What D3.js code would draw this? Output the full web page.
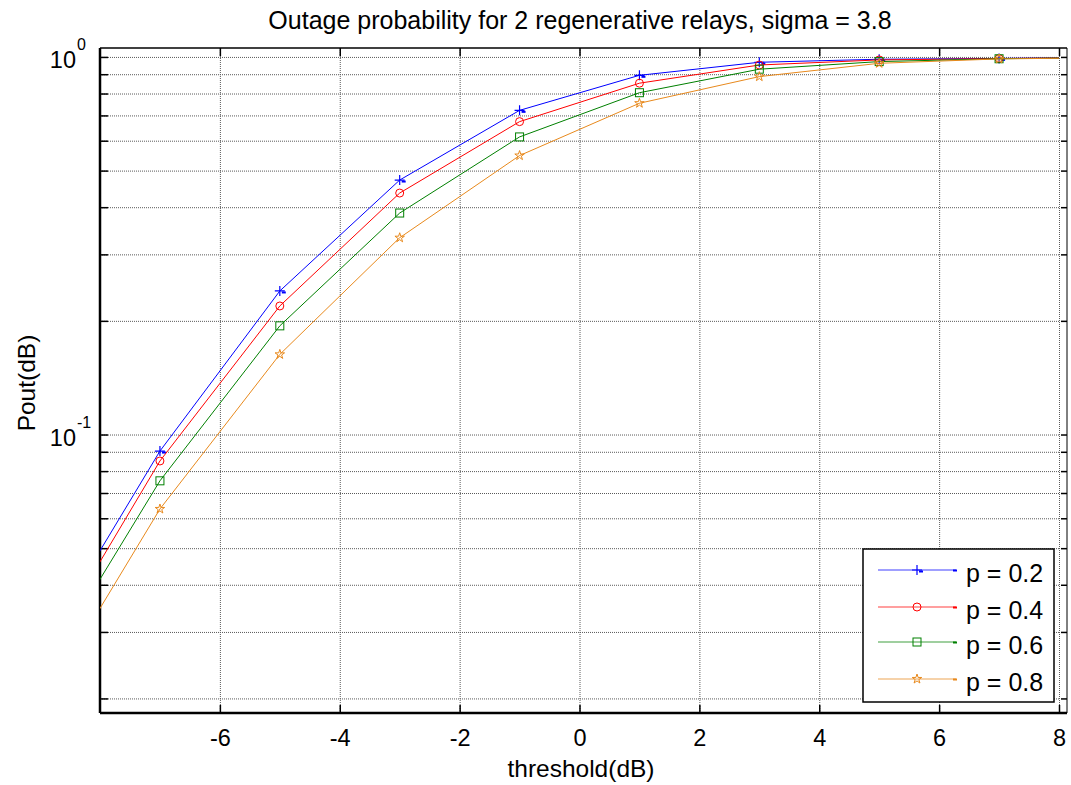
<!DOCTYPE html>
<html>
<head>
<meta charset="utf-8">
<script src="https://cdn.jsdelivr.net/npm/d3@7"></script>
<style>
  html, body { margin: 0; padding: 0; background: #fff; }
  svg { display: block; font-family: "Liberation Sans", Arial, sans-serif; }
</style>
</head>
<body>
<svg id="chart" width="1071" height="785"></svg>
<script>
// ---------------- data ----------------
const titleText = "Outage probability for 2 regenerative relays, sigma = 3.8";
const xLabel = "threshold(dB)";
const yLabel = "Pout(dB)";
const thresholds = [-9, -7, -5, -3, -1, 1, 3, 5, 7, 9];
const poutP02 = [0.0268, 0.0904, 0.240, 0.472, 0.722, 0.894, 0.968, 0.986, 0.991, 0.997];
const poutP04 = [0.0249, 0.0851, 0.219, 0.436, 0.674, 0.852, 0.952, 0.982, 0.990, 0.997];
const poutP06 = [0.0227, 0.0754, 0.194, 0.386, 0.614, 0.804, 0.928, 0.972, 0.989, 0.997];
const poutP08 = [0.0189, 0.0635, 0.163, 0.332, 0.548, 0.754, 0.887, 0.962, 0.988, 0.996];
const seriesNames = ["p = 0.2", "p = 0.4", "p = 0.6", "p = 0.8"];
const xTickValues = [-6, -4, -2, 0, 2, 4, 6, 8];
const xTickLabels = ["-6", "-4", "-2", "0", "2", "4", "6", "8"];
const yMajorTicks = [0.1, 1];
const yMajorExponents = ["-1", "0"];
const yMinorTicks = [0.02,0.03,0.04,0.05,0.06,0.07,0.08,0.09,0.2,0.3,0.4,0.5,0.6,0.7,0.8,0.9];
const xDomain = [-8, 8];
const yDomain = [0.0183, 1.056];

// ---------------- layout ----------------
const L = 100, R = 1059, T = 48, B = 713, RF = 1067;
const colors = ["#0000ff", "#ff0000", "#008000", "#e8891c"];
const markers = ["plus", "circle", "square", "star"];
const allSeries = [poutP02, poutP04, poutP06, poutP08];

const svg = d3.select("#chart");
const x = d3.scaleLinear().domain(xDomain).range([L, R]);
const y = d3.scaleLog().domain(yDomain).range([B, T]);

// grid
const gridStyle = g => g.selectAll("line").attr("stroke", "#5a5a5a").attr("stroke-width", 1).attr("stroke-dasharray", "1,1");
const allYTicks = yMinorTicks.concat(yMajorTicks);
const gy = svg.append("g").attr("transform", `translate(${L},0)`)
  .call(d3.axisLeft(y).tickValues(allYTicks).tickSize(-(R - L)).tickFormat(""));
gy.select(".domain").remove();
gridStyle(gy);
const gx = svg.append("g").attr("transform", `translate(0,${B})`)
  .call(d3.axisBottom(x).tickValues(xTickValues).tickSize(-(B - T)).tickFormat(""));
gx.select(".domain").remove();
gridStyle(gx);

// frame
svg.append("line").attr("x1", L).attr("x2", RF).attr("y1", T).attr("y2", T).attr("stroke", "#000").attr("stroke-width", 1.5);
svg.append("line").attr("x1", RF).attr("x2", RF).attr("y1", T).attr("y2", B).attr("stroke", "#000").attr("stroke-width", 1);

// bottom axis with inward ticks
const xb = svg.append("g").attr("transform", `translate(0,${B})`)
  .call(d3.axisBottom(x).tickValues(xTickValues).tickSize(-8).tickPadding(16).tickSizeOuter(0)
    .tickFormat((d, i) => xTickLabels[i]));
xb.select(".domain").attr("stroke", "#000").attr("stroke-width", 2.5).attr("d", `M${L},0H${RF}`);
xb.selectAll("line").attr("stroke", "#000").attr("stroke-width", 1.5);
xb.selectAll("text").attr("font-size", 23.5).attr("fill", "#000").attr("font-family", "Liberation Sans, Arial, sans-serif");

// top axis ticks
const xt = svg.append("g").attr("transform", `translate(0,${T})`)
  .call(d3.axisTop(x).tickValues(xTickValues).tickSize(-8).tickFormat(""));
xt.select(".domain").remove();
xt.selectAll("line").attr("stroke", "#000").attr("stroke-width", 1.5);

// left axis
const yl = svg.append("g").attr("transform", `translate(${L},0)`)
  .call(d3.axisLeft(y).tickValues(allYTicks).tickSize(-8).tickFormat("").tickSizeOuter(0));
yl.select(".domain").attr("stroke", "#000").attr("stroke-width", 2.5).attr("d", `M0,${T}V${B}`);
yl.selectAll("line").attr("stroke", "#000").attr("stroke-width", 1.5);

// right axis
const yr = svg.append("g").attr("transform", `translate(${RF},0)`)
  .call(d3.axisRight(y).tickValues(allYTicks).tickSize(-6).tickFormat(""));
yr.select(".domain").remove();
yr.selectAll("line").attr("stroke", "#000").attr("stroke-width", 1.5);

// y tick labels 10^n
yMajorTicks.forEach((v, i) => {
  svg.append("text").attr("x", 76).attr("y", y(v) + 11)
    .attr("text-anchor", "end").attr("font-size", 23.5).attr("fill", "#000").text("10");
  svg.append("text").attr("x", 77).attr("y", y(v) - 7)
    .attr("font-size", 16).attr("fill", "#000").text(yMajorExponents[i]);
});

// title and labels
svg.append("text").attr("x", 580).attr("y", 29).attr("text-anchor", "middle")
  .attr("font-size", 25).attr("fill", "#000").text(titleText);
svg.append("text").attr("x", 581).attr("y", 777).attr("text-anchor", "middle")
  .attr("font-size", 24.5).attr("fill", "#000").text(xLabel);
svg.append("text").attr("transform", "translate(35,383) rotate(-90)").attr("text-anchor", "middle")
  .attr("font-size", 24.5).attr("fill", "#000").text(yLabel);

// lines
svg.append("clipPath").attr("id", "clip").append("rect")
  .attr("x", L).attr("y", T).attr("width", R - L).attr("height", B - T);
const line = d3.line().x(d => x(d[0])).y(d => y(d[1]));
const plot = svg.append("g").attr("clip-path", "url(#clip)");

function drawMarker(g, type, cx, cy, color) {
  if (type === "plus") {
    g.append("path").attr("d", `M${cx-5},${cy}H${cx+5}M${cx},${cy-5}V${cy+5}`)
      .attr("stroke", color).attr("stroke-width", 1.2).attr("fill", "none");
    g.append("path").attr("d", `M${cx+2},${cy+1.5}H${cx+6}`)
      .attr("stroke", color).attr("stroke-width", 2).attr("fill", "none");
  } else if (type === "circle") {
    g.append("circle").attr("cx", cx).attr("cy", cy).attr("r", 4)
      .attr("stroke", color).attr("stroke-width", 1).attr("fill", "none");
  } else if (type === "square") {
    g.append("rect").attr("x", cx - 4).attr("y", cy - 4).attr("width", 8).attr("height", 8)
      .attr("stroke", color).attr("stroke-width", 1).attr("fill", "none");
  } else if (type === "star") {
    g.append("path").attr("d", d3.symbol(d3.symbolStar, 28)()).attr("transform", `translate(${cx},${cy})`)
      .attr("stroke", color).attr("stroke-width", 1).attr("fill", "none");
  }
}

allSeries.forEach((vals, i) => {
  const pts = thresholds.map((t, j) => [t, vals[j]]);
  plot.append("path").datum(pts).attr("d", line)
    .attr("fill", "none").attr("stroke", colors[i]).attr("stroke-width", 1);
  const mg = plot.append("g");
  pts.filter(p => p[0] > xDomain[0] && p[0] < xDomain[1])
     .forEach(p => drawMarker(mg, markers[i], x(p[0]), y(p[1]), colors[i]));
});

// legend
const lg = svg.append("g");
lg.append("rect").attr("x", 863).attr("y", 549).attr("width", 191).attr("height", 153)
  .attr("fill", "#fff").attr("stroke", "#000").attr("stroke-width", 1.5);
const rowY = [570, 607, 642, 679];
seriesNames.forEach((name, i) => {
  lg.append("line").attr("x1", 878).attr("x2", 956).attr("y1", rowY[i]).attr("y2", rowY[i])
    .attr("stroke", colors[i]).attr("stroke-width", 1).attr("opacity", 0.75);
  lg.append("line").attr("x1", 953).attr("x2", 957).attr("y1", rowY[i] + 0.5).attr("y2", rowY[i] + 0.5)
    .attr("stroke", colors[i]).attr("stroke-width", 2);
  drawMarker(lg, markers[i], 917, rowY[i], colors[i]);
  lg.append("text").attr("x", 966).attr("y", rowY[i] + 12).attr("font-size", 25)
    .attr("fill", "#000").text(name);
});
</script>
</body>
</html>
